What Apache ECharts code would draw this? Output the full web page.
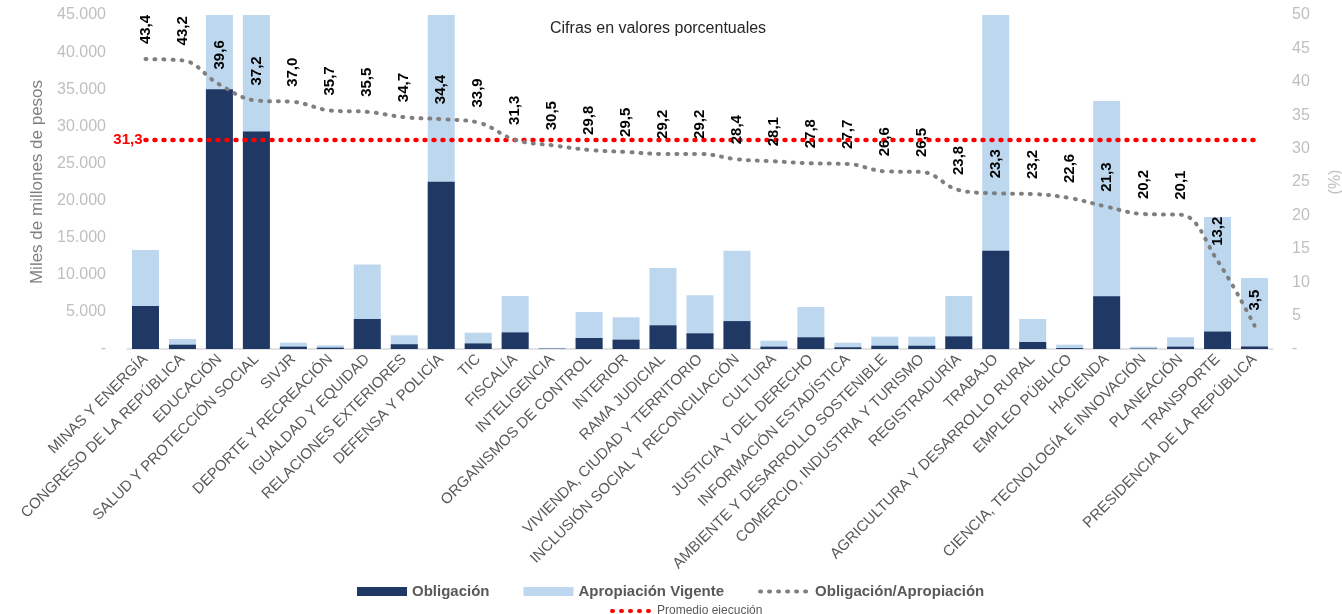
<!DOCTYPE html>
<html>
<head>
<meta charset="utf-8">
<script src="https://cdn.jsdelivr.net/npm/echarts@6/dist/echarts.min.js"></script>
<style>
  html, body { margin: 0; padding: 0; background: #fff; }
  #chart { width: 1342px; height: 614px; }
</style>
</head>
<body>
<div id="chart"></div>
<script>
// sectores, en el orden del gráfico
const sectores = [
  'MINAS Y ENERGÍA', 'CONGRESO DE LA REPÚBLICA', 'EDUCACIÓN', 'SALUD Y PROTECCIÓN SOCIAL',
  'SIVJR', 'DEPORTE Y RECREACIÓN', 'IGUALDAD Y EQUIDAD', 'RELACIONES EXTERIORES',
  'DEFENSA Y POLICÍA', 'TIC', 'FISCALÍA', 'INTELIGENCIA', 'ORGANISMOS DE CONTROL',
  'INTERIOR', 'RAMA JUDICIAL', 'VIVIENDA, CIUDAD Y TERRITORIO',
  'INCLUSIÓN SOCIAL Y RECONCILIACIÓN', 'CULTURA', 'JUSTICIA Y DEL DERECHO',
  'INFORMACIÓN ESTADÍSTICA', 'AMBIENTE Y DESARROLLO SOSTENIBLE',
  'COMERCIO, INDUSTRIA Y TURISMO', 'REGISTRADURÍA', 'TRABAJO',
  'AGRICULTURA Y DESARROLLO RURAL', 'EMPLEO PÚBLICO', 'HACIENDA',
  'CIENCIA, TECNOLOGÍA E INNOVACIÓN', 'PLANEACIÓN', 'TRANSPORTE', 'PRESIDENCIA DE LA REPÚBLICA'
]

// miles de millones de pesos
const apropiacion = [
  13340, 1350, 88400, 78800, 850, 500, 11380, 1845, 65500, 2200, 7140, 150, 4990,
  4270, 10910, 7230, 13240, 1120, 5660, 850, 1660, 1660, 7140, 56800, 4040, 580,
  33400, 310, 1580, 17780, 9560
]
const obligacion = [
  5790, 580, 35000, 29320, 315, 180, 4040, 640, 22540, 750, 2235, 46, 1485,
  1260, 3190, 2110, 3760, 315, 1575, 235, 440, 440, 1700, 13240, 940, 130,
  7115, 63, 317, 2350, 335
]

// porcentaje de ejecución
const ejecucion = [
  43.4, 43.2, 39.6, 37.2, 37.0, 35.7, 35.5, 34.7, 34.4, 33.9, 31.3, 30.5, 29.8,
  29.5, 29.2, 29.2, 28.4, 28.1, 27.8, 27.7, 26.6, 26.5, 23.8, 23.3, 23.2, 22.6,
  21.3, 20.2, 20.1, 13.2, 3.5
]
const promedio = 31.3

const FONT = 'Liberation Sans, Arial, sans-serif'
const coma = v => Number(v).toFixed(1).replace('.', ',')
const miles = v => v === 0 ? '-' : String(v).replace(/\B(?=(\d{3})+(?!\d))/g, '.')

// linea punteada de puntos redondos
const dots = (color, width) => ({ color, width, type: [1, 8], cap: 'round' })

const chart = echarts.init(document.getElementById('chart'))

const promedioData = sectores.map((s, i) => i === 0
  ? { value: promedio, label: { show: true } }
  : promedio)

chart.setOption({
  animation: false,
  textStyle: { fontFamily: FONT },
  title: {
    text: 'Cifras en valores porcentuales',
    left: 545,
    top: 16,
    textStyle: { fontSize: 16, fontWeight: 'normal', color: '#262626', fontFamily: FONT }
  },
  grid: { left: 127, right: 69, top: 15, bottom: 265, outerBoundsMode: 'none' },
  legend: [{
    data: [
      { name: 'Obligación', icon: 'rect' },
      { name: 'Apropiación Vigente', icon: 'rect' },
      {
        name: 'Obligación/Apropiación',
        itemStyle: { opacity: 0 },
        lineStyle: dots('#7f7f7f', 4)
      }
    ],
    left: 352,
    top: 579,
    itemWidth: 50,
    itemHeight: 9,
    itemGap: 34,
    textStyle: { fontSize: 15, fontWeight: 'bold', color: '#595959', fontFamily: FONT }
  }, {
    data: [{
      name: 'Promedio ejecución',
      itemStyle: { opacity: 0 },
      lineStyle: dots('#ff0000', 4)
    }],
    left: 605,
    top: 600,
    itemWidth: 40,
    itemHeight: 8,
    textStyle: { fontSize: 12, color: '#595959', fontFamily: FONT }
  }],
  xAxis: {
    type: 'category',
    data: sectores,
    axisTick: { show: false },
    axisLine: { lineStyle: { color: '#d9d9d9', width: 1.5 } },
    axisLabel: {
      interval: 0,
      rotate: 45,
      margin: 8,
      fontSize: 15,
      color: '#595959',
      fontFamily: FONT
    }
  },
  yAxis: [{
    type: 'value',
    min: 0,
    max: 45000,
    interval: 5000,
    name: 'Miles de millones de pesos',
    nameLocation: 'middle',
    nameRotate: 90,
    nameGap: 80,
    nameTextStyle: { fontSize: 17, color: '#7f7f7f', fontFamily: FONT },
    splitLine: { show: false },
    axisLine: { show: false },
    axisLabel: { formatter: miles, fontSize: 16, color: '#bfbfbf', margin: 21 }
  }, {
    type: 'value',
    min: 0,
    max: 50,
    interval: 5,
    name: '(%)',
    nameLocation: 'middle',
    nameRotate: 90,
    nameGap: 55,
    nameTextStyle: { fontSize: 16, color: '#bfbfbf', fontFamily: FONT },
    splitLine: { show: false },
    axisLine: { show: false },
    axisLabel: { formatter: v => v === 0 ? '-' : v, fontSize: 16, color: '#bfbfbf', margin: 19 }
  }],
  series: [{
    name: 'Apropiación Vigente',
    type: 'bar',
    data: apropiacion,
    barWidth: 27,
    barGap: '-100%',
    itemStyle: { color: '#bdd7ee' }
  }, {
    name: 'Obligación',
    type: 'bar',
    data: obligacion,
    barWidth: 27,
    itemStyle: { color: '#203864' }
  }, {
    name: 'Obligación/Apropiación',
    type: 'line',
    yAxisIndex: 1,
    data: ejecucion,
    smooth: 0.4,
    showSymbol: true,
    symbol: 'circle',
    symbolSize: 0,
    itemStyle: { color: '#7f7f7f' },
    lineStyle: dots('#7f7f7f', 4),
    label: {
      show: true,
      position: 'top',
      distance: 15,
      rotate: 90,
      align: 'left',
      verticalAlign: 'middle',
      formatter: p => coma(p.value),
      fontSize: 15,
      fontWeight: 'bold',
      color: '#000',
      fontFamily: FONT
    },
    z: 5
  }, {
    name: 'Promedio ejecución',
    type: 'line',
    yAxisIndex: 1,
    data: promedioData,
    showSymbol: true,
    symbol: 'circle',
    symbolSize: 0,
    itemStyle: { color: '#ff0000' },
    lineStyle: dots('#ff0000', 4.5),
    label: {
      show: false,
      position: 'left',
      distance: 3,
      formatter: p => coma(p.value),
      fontSize: 15,
      fontWeight: 'bold',
      color: '#ff0000',
      fontFamily: FONT
    },
    z: 4
  }]
})
</script>
</body>
</html>
